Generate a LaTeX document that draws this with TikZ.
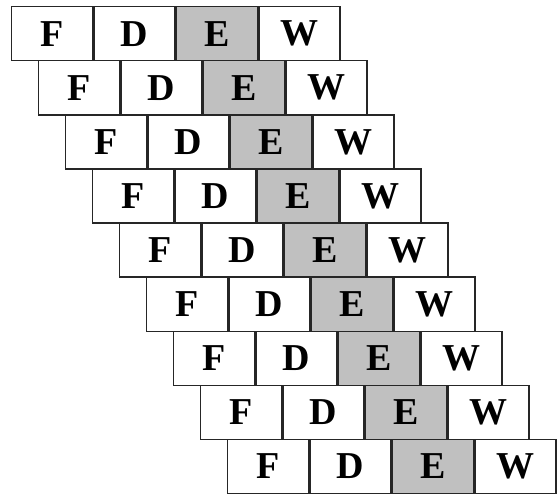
\documentclass[tikz,border=0pt]{standalone}
\usepackage{fontspec}
\setmainfont{Liberation Serif}
\usepackage{tikz}
\usetikzlibrary{positioning}
\definecolor{edge}{HTML}{262626}
\definecolor{exfill}{HTML}{C0C0C0}

\tikzset{
  stagebox/.style={rectangle,draw=edge,line width=1.4pt,fill=white,minimum width=81pt,minimum height=54.1pt,inner sep=0pt,anchor=north west,font=\fontsize{38}{42}\selectfont\bfseries},
  execbox/.style={stagebox,fill=exfill}
}

\begin{document}
\begin{tikzpicture}[x=1pt,y=1pt]
\useasboundingbox (0,0) rectangle (557,495);
% nine instructions, each shifted one stage to the right
\foreach \i in {0,...,8}{
  \node[stagebox] (f\i) at ({11+27*\i},{489-54.1*\i}) {F};
  \node[stagebox,right=0pt of f\i.north east,anchor=north west] (d\i) {D};
  \node[execbox,right=0pt of d\i.north east,anchor=north west] (e\i) {E};
  \node[stagebox,right=0pt of e\i.north east,anchor=north west] (w\i) {W};
}
\end{tikzpicture}
\end{document}
